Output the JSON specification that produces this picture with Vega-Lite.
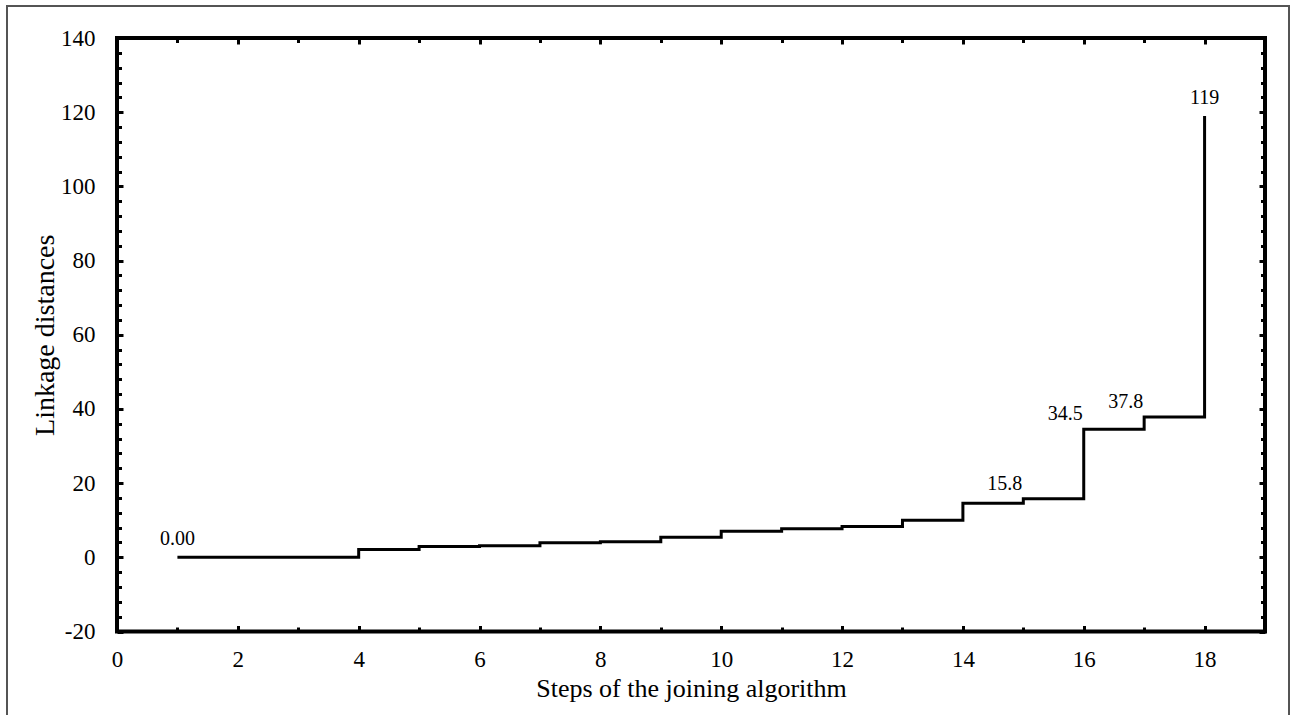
{
  "$schema": "https://vega.github.io/schema/vega-lite/v6.json",
  "width": 1148,
  "height": 593.5,
  "autosize": {"type": "none"},
  "padding": {"left": 117, "top": 38, "right": 30, "bottom": 83.5},
  "background": "white",
  "config": {
    "view": {"stroke": "#000", "strokeWidth": 4},
    "font": "Liberation Serif, Times New Roman, serif",
    "text": {"font": "Liberation Serif, Times New Roman, serif"},
    "axis": {
      "domain": false,
      "grid": false,
      "labelFlush": false,
      "labelFont": "Liberation Serif, Times New Roman, serif",
      "titleFont": "Liberation Serif, Times New Roman, serif",
      "labelColor": "#000",
      "titleColor": "#000",
      "tickColor": "#000",
      "labelFontSize": 23,
      "titleFontSize": 26,
      "titleFontWeight": "normal",
      "tickWidth": 3
    }
  },
  "datasets": {
    "steps": [
      {"step": 1, "dist": 0},
      {"step": 2, "dist": 0},
      {"step": 3, "dist": 0},
      {"step": 4, "dist": 2.1},
      {"step": 5, "dist": 2.9},
      {"step": 6, "dist": 3.1},
      {"step": 7, "dist": 3.9},
      {"step": 8, "dist": 4.2},
      {"step": 9, "dist": 5.4},
      {"step": 10, "dist": 7.0},
      {"step": 11, "dist": 7.7},
      {"step": 12, "dist": 8.3},
      {"step": 13, "dist": 10.0},
      {"step": 14, "dist": 14.6},
      {"step": 15, "dist": 15.8},
      {"step": 16, "dist": 34.5},
      {"step": 17, "dist": 37.8},
      {"step": 18, "dist": 119}
    ],
    "labelsC": [
      {"step": 1, "dist": 0, "label": "0.00"},
      {"step": 18, "dist": 119, "label": "119"}
    ],
    "labelsR": [
      {"step": 15, "dist": 15.8, "label": "15.8"},
      {"step": 16, "dist": 34.5, "label": "34.5"},
      {"step": 17, "dist": 37.8, "label": "37.8"}
    ]
  },
  "layer": [
    {
      "data": {"name": "steps"},
      "mark": {"type": "rect", "filled": false, "stroke": "#555", "strokeWidth": 1.2, "clip": false},
      "encoding": {
        "x": {"datum": -1.826, "type": "quantitative", "scale": {"domain": [0, 19], "nice": false, "zero": false}, "axis": null},
        "x2": {"datum": 19.4},
        "y": {"datum": 148.64, "type": "quantitative", "scale": {"domain": [-20, 140], "nice": false, "zero": false}, "axis": null},
        "y2": {"datum": -45}
      }
    },
    {
      "data": {"name": "steps"},
      "mark": {"type": "line", "interpolate": "step-after", "color": "#000", "strokeWidth": 3, "strokeJoin": "miter"},
      "encoding": {
        "x": {"field": "step", "type": "quantitative", "scale": {"domain": [0, 19], "nice": false, "zero": false},
          "axis": {"orient": "bottom", "values": [0, 2, 4, 6, 8, 10, 12, 14, 16, 18], "ticks": false, "labelPadding": 17, "title": "Steps of the joining algorithm", "titlePadding": 4}},
        "y": {"field": "dist", "type": "quantitative", "scale": {"domain": [-20, 140], "nice": false, "zero": false},
          "axis": {"orient": "left", "values": [-20, 0, 20, 40, 60, 80, 100, 120, 140], "labelExpr": "toString(datum.value)", "ticks": false, "labelPadding": 22, "title": "Linkage distances", "titleFontSize": 28, "titlePadding": 1}}
      }
    },
    {
      "data": {"name": "steps"},
      "mark": {"type": "line", "opacity": 0},
      "encoding": {
        "x": {"field": "step", "type": "quantitative", "scale": {"domain": [0, 19], "nice": false, "zero": false},
          "axis": {"orient": "bottom", "values": [0, 2, 4, 6, 8, 10, 12, 14, 16, 18], "labels": false, "tickSize": -6, "title": null}},
        "y": {"field": "dist", "type": "quantitative", "scale": {"domain": [-20, 140], "nice": false, "zero": false},
          "axis": {"orient": "left", "values": [-20, 0, 20, 40, 60, 80, 100, 120, 140], "labels": false, "tickSize": -6, "title": null}}
      }
    },
    {
      "data": {"name": "steps"},
      "mark": {"type": "line", "opacity": 0},
      "encoding": {
        "x": {"field": "step", "type": "quantitative", "scale": {"domain": [0, 19], "nice": false, "zero": false},
          "axis": {"orient": "bottom", "values": [1, 3, 5, 7, 9, 11, 13, 15, 17], "labels": false, "tickSize": -4.5, "title": null}},
        "y": {"field": "dist", "type": "quantitative", "scale": {"domain": [-20, 140], "nice": false, "zero": false},
          "axis": {"orient": "left", "values": [-16, -12, -8, -4, 4, 8, 12, 16, 24, 28, 32, 36, 44, 48, 52, 56, 64, 68, 72, 76, 84, 88, 92, 96, 104, 108, 112, 116, 124, 128, 132, 136], "labels": false, "tickSize": -4.5, "title": null}}
      }
    },
    {
      "data": {"name": "steps"},
      "mark": {"type": "line", "opacity": 0},
      "encoding": {
        "x": {"field": "step", "type": "quantitative", "scale": {"domain": [0, 19], "nice": false, "zero": false},
          "axis": {"orient": "top", "values": [0, 2, 4, 6, 8, 10, 12, 14, 16, 18], "labels": false, "tickSize": -6, "title": null}},
        "y": {"field": "dist", "type": "quantitative", "scale": {"domain": [-20, 140], "nice": false, "zero": false},
          "axis": {"orient": "right", "values": [-20, 0, 20, 40, 60, 80, 100, 120, 140], "labels": false, "tickSize": -6, "title": null}}
      }
    },
    {
      "data": {"name": "steps"},
      "mark": {"type": "line", "opacity": 0},
      "encoding": {
        "x": {"field": "step", "type": "quantitative", "scale": {"domain": [0, 19], "nice": false, "zero": false},
          "axis": {"orient": "top", "values": [1, 3, 5, 7, 9, 11, 13, 15, 17], "labels": false, "tickSize": -4.5, "title": null}},
        "y": {"field": "dist", "type": "quantitative", "scale": {"domain": [-20, 140], "nice": false, "zero": false},
          "axis": {"orient": "right", "values": [-16, -12, -8, -4, 4, 8, 12, 16, 24, 28, 32, 36, 44, 48, 52, 56, 64, 68, 72, 76, 84, 88, 92, 96, 104, 108, 112, 116, 124, 128, 132, 136], "labels": false, "tickSize": -4.5, "title": null}}
      }
    },
    {
      "data": {"name": "labelsC"},
      "mark": {"type": "text", "align": "center", "baseline": "alphabetic", "dy": -12, "fontSize": 20, "color": "#000"},
      "encoding": {
        "x": {"field": "step", "type": "quantitative", "scale": {"domain": [0, 19], "nice": false, "zero": false}, "axis": null},
        "y": {"field": "dist", "type": "quantitative", "scale": {"domain": [-20, 140], "nice": false, "zero": false}, "axis": null},
        "text": {"field": "label", "type": "nominal"}
      }
    },
    {
      "data": {"name": "labelsR"},
      "mark": {"type": "text", "align": "right", "baseline": "alphabetic", "dx": -1, "dy": -9, "fontSize": 20, "color": "#000"},
      "encoding": {
        "x": {"field": "step", "type": "quantitative", "scale": {"domain": [0, 19], "nice": false, "zero": false}, "axis": null},
        "y": {"field": "dist", "type": "quantitative", "scale": {"domain": [-20, 140], "nice": false, "zero": false}, "axis": null},
        "text": {"field": "label", "type": "nominal"}
      }
    }
  ],
  "resolve": {"axis": {"x": "independent", "y": "independent"}}
}
